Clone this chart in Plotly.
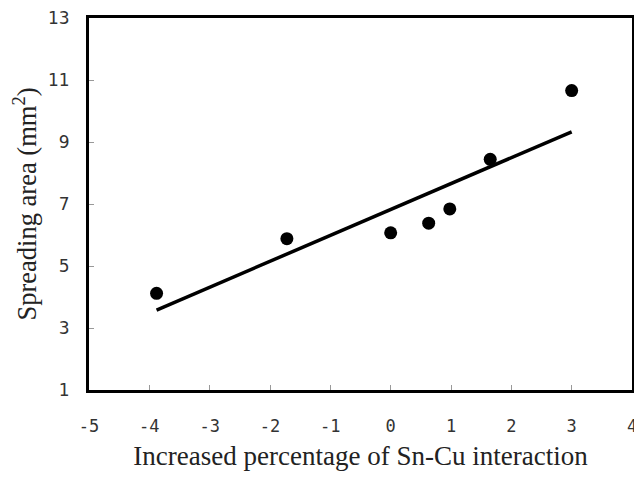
import plotly.graph_objects as go

# Data
x_vals = [-3.88, -1.72, 0.0, 0.63, 0.98, 1.65, 3.0]
y_vals = [4.12, 5.88, 6.07, 6.38, 6.84, 8.44, 10.66]
fit_x = [-3.88, 3.0]
fit_y = [3.58, 9.33]
x_ticks = [-5, -4, -3, -2, -1, 0, 1, 2, 3, 4]
y_ticks = [1, 3, 5, 7, 9, 11, 13]

fig = go.Figure()
fig.add_trace(go.Scatter(x=fit_x, y=fit_y, mode="lines",
                         line=dict(color="black", width=3.5), showlegend=False))
fig.add_trace(go.Scatter(x=x_vals, y=y_vals, mode="markers",
                         marker=dict(color="black", size=13), showlegend=False))

fig.update_layout(
    width=626, height=463,
    margin=dict(l=81, r=2, t=10, b=81),
    plot_bgcolor="white", paper_bgcolor="white",
    showlegend=False,
)
fig.update_xaxes(
    range=[-5, 4], tickvals=x_ticks, ticktext=[str(v) for v in x_ticks],
    showgrid=False, zeroline=False, automargin=False,
    showline=True, linecolor="black", linewidth=3, mirror=True,
    ticks="inside", ticklen=5, tickcolor="#999", tickwidth=1,
    ticklabelstandoff=19, ticklabeloverflow="allow",
    tickfont=dict(family="DejaVu Sans Mono", size=17, color="#333"),
    title=dict(text="Increased percentage of Sn-Cu interaction",
               font=dict(family="Liberation Serif", size=27, color="#222"),
               standoff=20),
)
fig.update_yaxes(
    range=[1, 13], tickvals=y_ticks, ticktext=[str(v) for v in y_ticks],
    showgrid=False, zeroline=False, automargin=False,
    showline=True, linecolor="black", linewidth=3, mirror=True,
    ticks="inside", ticklen=5, tickcolor="#999", tickwidth=1,
    ticklabelstandoff=13, ticklabeloverflow="allow",
    tickfont=dict(family="DejaVu Sans", size=17, color="#333"),
    title=dict(text="Spreading area (mm<sup>2</sup>)",
               font=dict(family="Liberation Serif", size=26.5, color="#222"),
               standoff=18),
)
fig.write_html("out.html")
